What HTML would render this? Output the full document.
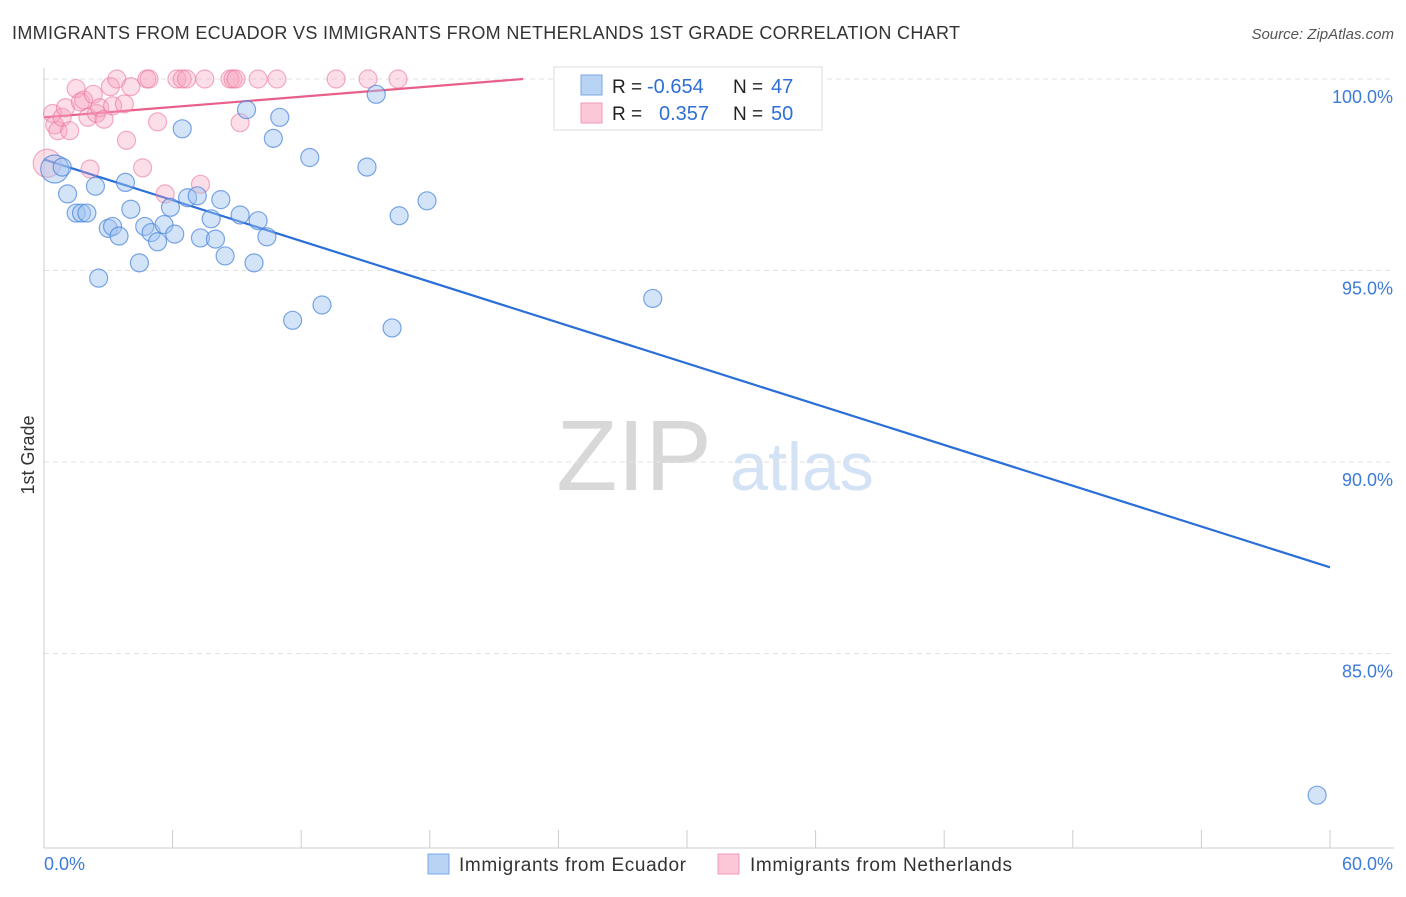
<!DOCTYPE html>
<html><head><meta charset="utf-8"><style>
body{margin:0;background:#fff;font-family:"Liberation Sans",sans-serif}
svg text{font-family:"Liberation Sans",sans-serif}
</style></head><body>
<svg id="chart" width="1406" height="892" xmlns="http://www.w3.org/2000/svg">
<text x="12" y="39" font-size="18" fill="#333" textLength="948">IMMIGRANTS FROM ECUADOR VS IMMIGRANTS FROM NETHERLANDS 1ST GRADE CORRELATION CHART</text>
<text x="1394" y="39" font-size="15" fill="#555" font-style="italic" text-anchor="end">Source: ZipAtlas.com</text>
<text x="34" y="455" font-size="18" fill="#333" transform="rotate(-90 34 455)" text-anchor="middle">1st Grade</text>
<g><text x="634" y="490" font-size="100" fill="#d8d8d8" font-family="Liberation Serif" text-anchor="middle">ZIP</text><text x="802" y="490" font-size="68" fill="#d3e2f5" text-anchor="middle">atlas</text></g>
<g id="grid"></g><g id="axes"></g><g id="lines"></g><g id="pts"></g>
<g>
<rect x="554" y="67" width="268" height="63" fill="#fff" stroke="#ddd"/>
<rect x="581" y="75" width="21" height="20" fill="#b8d3f4" stroke="#7aa8e8"/>
<rect x="581" y="103" width="21" height="20" fill="#fcc8d7" stroke="#f09ab4"/>
<text x="612" y="93" font-size="19" fill="#222">R =</text><text x="647" y="93" font-size="20" fill="#2e6fd6">-0.654</text>
<text x="733" y="93" font-size="19" fill="#222">N =</text><text x="771" y="93" font-size="20" fill="#2e6fd6">47</text>
<text x="612" y="120" font-size="19" fill="#222">R =</text><text x="659" y="120" font-size="20" fill="#2e6fd6">0.357</text>
<text x="733" y="120" font-size="19" fill="#222">N =</text><text x="771" y="120" font-size="20" fill="#2e6fd6">50</text>
</g>
<g>
<rect x="428" y="854" width="21" height="20" fill="#b8d3f4" stroke="#7aa8e8"/>
<text x="459" y="871" font-size="19" fill="#333" textLength="227">Immigrants from Ecuador</text>
<rect x="718" y="854" width="21" height="20" fill="#fcc8d7" stroke="#f09ab4"/>
<text x="750" y="871" font-size="19" fill="#333" textLength="262">Immigrants from Netherlands</text>
</g>
</svg>
<script>
const yTicks=[100,95,90,85];
const yTickLabels=["100.0%","95.0%","90.0%","85.0%"];
const xTicks=[0,6,12,18,24,30,36,42,48,54,60];
const ecuX=[0.5,0.85,1.1,1.5,1.75,2.0,2.55,2.4,3.0,3.2,3.5,3.8,4.05,4.45,4.7,5.0,5.3,5.6,5.9,6.1,6.45,6.7,7.15,7.3,7.8,8.0,8.25,8.45,9.15,9.45,9.8,9.99,10.4,10.7,11.0,11.6,12.4,12.97,15.07,15.5,16.24,16.57,17.87,28.4,59.4];
const ecuY=[97.65,97.7,97.0,96.5,96.5,96.5,94.8,97.2,96.1,96.15,95.9,97.3,96.6,95.2,96.15,95.99,95.75,96.2,96.65,95.95,98.7,96.9,96.95,95.85,96.35,95.82,96.85,95.38,96.45,99.2,95.2,96.3,95.88,98.45,99.0,93.7,97.95,94.1,97.7,99.6,93.5,96.43,96.82,94.27,81.3];
const nedX=[0.15,0.4,0.5,0.65,0.85,1.0,1.2,1.5,1.7,1.85,2.05,2.15,2.3,2.45,2.6,2.8,3.1,3.2,3.4,3.75,3.85,4.05,4.6,4.8,4.9,5.3,5.65,6.2,6.45,6.65,7.3,7.5,8.68,8.82,8.96,9.15,9.99,10.87,13.63,15.12,16.52,24.35,33.17];
const nedY=[97.8,99.1,98.8,98.65,99.0,99.25,98.65,99.75,99.4,99.45,99.0,97.65,99.6,99.1,99.25,98.95,99.8,99.3,100,99.35,98.4,99.8,97.68,100,100,98.88,97.0,100,100,100,97.25,100,100,100,100,98.86,100,100,100,100,100,100,100];
const ecuSizes=[14,9];
const trendEcu=[97.9,87.25];
const trendNed=[99.0,100.0,22.35];
const NS="http://www.w3.org/2000/svg";
const X0=44,X1=1330,Y100=79,PXP=38.3;
const sx=v=>X0+(X1-X0)*v/60, sy=v=>Y100+(100-v)*PXP;
function mk(tag,attrs,parent){const e=document.createElementNS(NS,tag);for(const k in attrs)e.setAttribute(k,attrs[k]);document.getElementById(parent).appendChild(e);return e;}
yTicks.forEach((t,i)=>{
 const l=mk('line',{x1:X0,x2:1394,y1:sy(t),y2:sy(t),stroke:'#e2e2e2','stroke-dasharray':'5,4'},'grid');
 
 
 const tx=mk('text',{x:1393,y:sy(t)+24,'font-size':18,fill:'#3d7bd9','text-anchor':'end'},'grid');
 tx.textContent=yTickLabels[i];
 
 
});
const ax=mk('line',{x1:X0,x2:X0,y1:68,y2:848,stroke:'#ccc'},'axes');


const bx=mk('line',{x1:X0,x2:1394,y1:848,y2:848,stroke:'#ccc'},'axes');


xTicks.forEach(t=>{const l=mk('line',{x1:sx(t),x2:sx(t),y1:830,y2:848,stroke:'#ccc'},'axes');
 
 });
const xl0=mk('text',{x:44,y:870,'font-size':18,fill:'#3d7bd9'},'axes');xl0.textContent='0.0%';


const xl1=mk('text',{x:1393,y:870,'font-size':18,fill:'#3d7bd9','text-anchor':'end'},'axes');xl1.textContent='60.0%';


nedX.forEach((v,i)=>{const c=mk('circle',{cx:sx(v),cy:sy(nedY[i]),r:i==0?14:9,fill:'rgba(247,160,188,0.35)',stroke:'rgba(236,120,155,0.6)','stroke-width':1.2},'pts');
 
 });
ecuX.forEach((v,i)=>{const c=mk('circle',{cx:sx(v),cy:sy(ecuY[i]),r:i==0?ecuSizes[0]:ecuSizes[1],fill:'rgba(160,196,240,0.45)',stroke:'rgba(70,130,220,0.7)','stroke-width':1.2},'pts');
 
 });
const le=mk('line',{x1:sx(0),y1:sy(trendEcu[0]),x2:sx(60),y2:sy(trendEcu[1]),stroke:'#2a6fd8','stroke-width':2.2},'lines');


const ln=mk('line',{x1:sx(0),y1:sy(trendNed[0]),x2:sx(trendNed[2]),y2:sy(trendNed[1]),stroke:'#e8608a','stroke-width':2.2},'lines');


</script>
</body></html>
